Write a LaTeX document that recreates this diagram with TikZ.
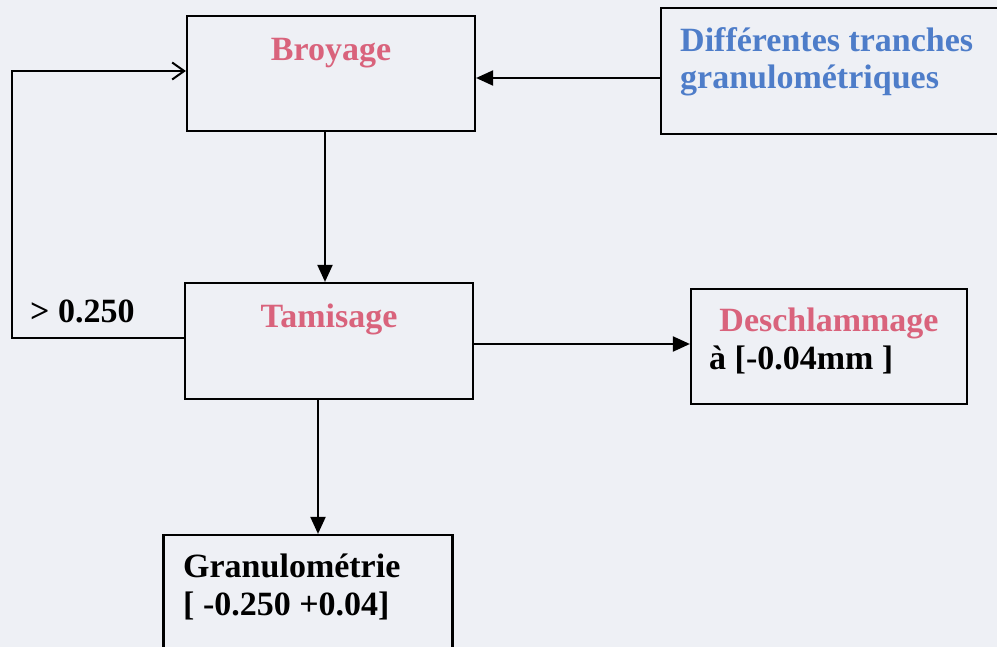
\documentclass[tikz,border=0pt]{standalone}
\usepackage{fontspec}
\setmainfont{Liberation Serif}
\usetikzlibrary{arrows.meta}
\definecolor{pagebg}{HTML}{EEF0F5}
\definecolor{stepred}{HTML}{D9637C}
\definecolor{stepblue}{HTML}{4E7DC9}
\begin{document}
\begin{tikzpicture}[x=1pt,y=-1pt,
  box/.style={draw=black,line width=2.2pt,inner sep=0pt},
  lbl/.style={inner sep=0pt,anchor=base,font=\fontsize{34}{40}\selectfont\bfseries},
  link/.style={line width=2.1pt,-{Triangle[length=17pt,width=15pt]}},
  back/.style={line width=2.1pt,-{Straight Barb[length=12pt,width=17pt,line width=2pt]}}]
  \clip (0,0) rectangle (997,647);
  \fill[pagebg] (0,0) rectangle (997,647);

  % process boxes
  \node[box,minimum width=288pt,minimum height=115pt] (broy) at (331,73.5) {};
  \node[box,minimum width=350pt,minimum height=126pt] (diff) at (836,71) {};
  \node[box,minimum width=288pt,minimum height=116pt] (tami) at (329,341) {};
  \node[box,minimum width=276pt,minimum height=115pt] (desc) at (829,346.5) {};
  \node[box,minimum width=289pt,minimum height=150pt] (gran) at (308,610) {};

  % labels
  \node[lbl,text=stepred] (tbroy) at (331,61) {Broyage};
  \node[lbl,text=stepblue,anchor=base west] (tdiff1) at (680,52) {Différentes tranches};
  \node[lbl,text=stepblue,anchor=base west] (tdiff2) at (680,89) {granulométriques};
  \node[lbl,text=stepred] (ttami) at (329,328) {Tamisage};
  \node[lbl,anchor=base west] (tsup) at (30,323) {> 0.250};
  \node[lbl,text=stepred] (tdesc1) at (829,332) {Deschlammage};
  \node[lbl,anchor=base west] (tdesc2) at (709,370) {à [-0.04mm ]};
  \node[lbl,anchor=base west] (tgran1) at (183,577) {Granulométrie};
  \node[lbl,anchor=base west] (tgran2) at (183,615) {[ -0.250 +0.04]};

  % connectors
  \coordinate (lp1) at (12,338);
  \coordinate (lp2) at (12,71);
  \draw[link] (diff.west |- 0,78) -- (broy.east |- 0,78);
  \draw[link] (broy.south -| 325,0) -- (tami.north -| 325,0);
  \draw[link] (tami.east |- 0,344) -- (desc.west |- 0,344);
  \draw[link] (tami.south -| 318,0) -- (gran.north -| 318,0);
  \draw[back] (tami.west |- lp1) -- (lp1) -- (lp2) -- (broy.west |- lp2);
\end{tikzpicture}
\end{document}
